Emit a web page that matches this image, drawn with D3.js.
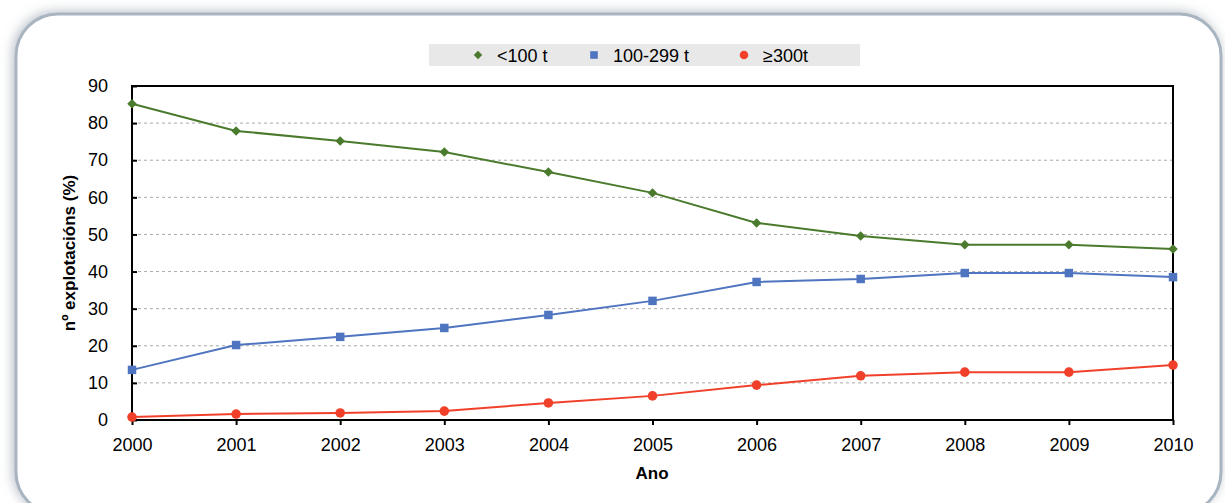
<!DOCTYPE html>
<html><head><meta charset="utf-8">
<script src="https://cdn.jsdelivr.net/npm/d3@7"></script>
<style>body{margin:0;background:#fff}svg{display:block;font-family:"Liberation Sans",Arial,sans-serif}</style>
</head><body>
<svg id="c" width="1225" height="503"></svg>
<script>
const years = [2000,2001,2002,2003,2004,2005,2006,2007,2008,2009,2010];
const seriesNames = ["<100 t","100-299 t","≥300t"];
const small = [85.2,77.9,75.2,72.2,66.8,61.2,53.1,49.6,47.2,47.2,46.1];
const medium = [13.5,20.2,22.4,24.8,28.3,32.1,37.2,38.0,39.6,39.6,38.5];
const large = [0.8,1.6,1.9,2.4,4.6,6.5,9.4,11.9,12.9,12.9,14.8];
const yTicks = [0,10,20,30,40,50,60,70,80,90];
const colors = ["#4a7a2c","#4f74c0","#f0402a"];
const symbols = [d3.symbolSquare, d3.symbolSquare, d3.symbolCircle];
const symRot = [45, 0, 0];
const symSizes = [45, 72, 72];

const svg = d3.select("#c");
const defs = svg.append("defs");
const f = defs.append("filter").attr("id","sh").attr("x","-10%").attr("y","-10%").attr("width","120%").attr("height","120%");
f.append("feGaussianBlur").attr("in","SourceAlpha").attr("stdDeviation",6);
f.append("feOffset").attr("dx",-2).attr("dy",-1).attr("result","b");
f.append("feFlood").attr("flood-color","#7d8a99").attr("flood-opacity",0.55);
f.append("feComposite").attr("in2","b").attr("operator","in");
const m = f.append("feMerge"); m.append("feMergeNode"); m.append("feMergeNode").attr("in","SourceGraphic");

svg.append("rect").attr("x",16).attr("y",14).attr("width",1205).attr("height",500)
  .attr("rx",42).attr("ry",42).attr("fill","#fff").attr("stroke","#a9b4c1").attr("stroke-width",3)
  .attr("filter","url(#sh)");

const L=132, R=1173, T=86, B=420;
const x = d3.scaleLinear().domain([2000,2010]).range([L,R]);
const y = d3.scaleLinear().domain([0,90]).range([B,T]);

// grid
svg.append("g").selectAll("line").data(yTicks.filter(d=>d>0&&d<90)).join("line")
  .attr("x1",L).attr("x2",R).attr("y1",d=>y(d)).attr("y2",d=>y(d))
  .attr("stroke","#aaa").attr("stroke-width",1).attr("stroke-dasharray","3,3");

// axes
const ya = svg.append("g").attr("transform",`translate(${L},0)`)
  .call(d3.axisLeft(y).tickValues(yTicks).tickSize(-5).tickPadding(24));
ya.select(".domain").remove();
ya.selectAll("line").attr("stroke","#000").attr("stroke-width",2);
ya.selectAll("text").attr("font-size",18).attr("fill","#000").attr("font-family","Liberation Sans, Arial");

const xa = svg.append("g").attr("transform",`translate(0,${B})`)
  .call(d3.axisBottom(x).tickValues(years).tickFormat(d3.format("d")).tickSize(5).tickPadding(13));
xa.select(".domain").remove();
xa.selectAll("line").attr("stroke","#000").attr("stroke-width",2);
xa.selectAll("text").attr("font-size",18).attr("fill","#000").attr("font-family","Liberation Sans, Arial");

svg.append("rect").attr("x",L).attr("y",T).attr("width",R-L).attr("height",B-T)
  .attr("fill","none").attr("stroke","#000").attr("stroke-width",2);

// series
const allSeries = [small, medium, large];
const line = d3.line().x((d,i)=>x(years[i])).y(d=>y(d));
allSeries.forEach((s,k)=>{
  svg.append("path").datum(s).attr("d",line).attr("fill","none")
    .attr("stroke",colors[k]).attr("stroke-width",2);
  svg.append("g").selectAll("path").data(s).join("path")
    .attr("transform",(d,i)=>`translate(${x(years[i])},${y(d)}) rotate(${symRot[k]})`)
    .attr("d",d3.symbol().type(symbols[k]).size(symSizes[k]))
    .attr("fill",colors[k]);
});

// legend
svg.append("rect").attr("x",429).attr("y",44).attr("width",431).attr("height",22).attr("fill","#e8e8e8");
const lx = [478,594,744];
seriesNames.forEach((n,k)=>{
  svg.append("path").attr("transform",`translate(${lx[k]},55) rotate(${symRot[k]})`)
    .attr("d",d3.symbol().type(symbols[k]).size(symSizes[k]*0.8)).attr("fill",colors[k]);
  svg.append("text").attr("x",lx[k]+19).attr("y",61.5).attr("font-size",18).text(n);
});

// titles
svg.append("text").attr("x",652).attr("y",479).attr("text-anchor","middle")
  .attr("font-size",17).attr("font-weight","bold").text("Ano");
svg.append("text").attr("transform","translate(75,253) rotate(-90)").attr("text-anchor","middle")
  .attr("font-size",17).attr("font-weight","bold").text("nº explotacións (%)");
</script>
</body></html>
